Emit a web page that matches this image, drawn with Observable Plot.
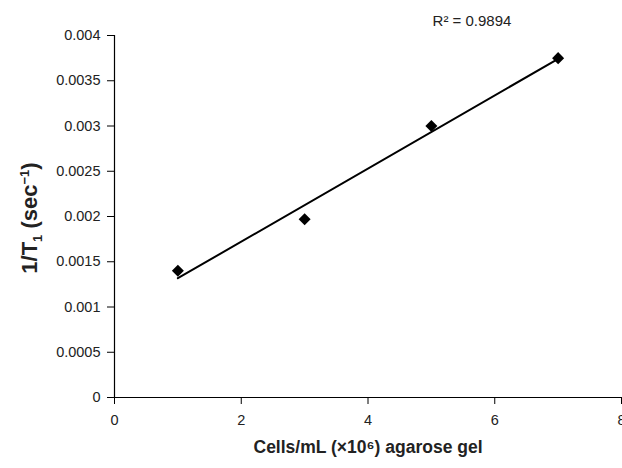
<!DOCTYPE html>
<html><head><meta charset="utf-8">
<script src="https://cdn.jsdelivr.net/npm/d3@7"></script>
<script src="https://cdn.jsdelivr.net/npm/@observablehq/plot@0.6"></script>
<style>
html,body{margin:0;padding:0;background:#fff;}
svg{font-family:"Liberation Sans",Arial,sans-serif;}
</style></head>
<body><div id="chart"></div>
<script>
const cells = [1, 3, 5, 7];
const invT1 = [0.0014, 0.00197, 0.003, 0.00375];
const xTicks = [0, 2, 4, 6, 8];
const yTicks = [0, 0.0005, 0.001, 0.0015, 0.002, 0.0025, 0.003, 0.0035, 0.004];
const r2Label = "R² = 0.9894";
const xLabel = "Cells/mL (×10⁶) agarose gel";
const yLabelParts = [["1/T", "base"], ["1", "sub"], [" (sec", "base"], ["−1", "sup"], [")", "base"]];

const data = cells.map((c, i) => ({x: c, y: invT1[i]}));

const plot = Plot.plot({
  width: 622, height: 468,
  marginLeft: 114, marginRight: 1, marginTop: 35, marginBottom: 71,
  style: {fontFamily: "Liberation Sans, Arial, sans-serif", fontSize: "14.5px", color: "#222", overflow: "visible"},
  x: {domain: [0, 8], ticks: xTicks, tickSize: 7, tickPadding: 10, tickFormat: d => `${d}`,
      label: xLabel, labelAnchor: "center", labelOffset: 55},
  y: {domain: [0, 0.004], ticks: yTicks, tickSize: 7, tickPadding: 7, tickFormat: d => `${d}`,
      label: null},
  marks: [
    Plot.ruleY([0], {stroke: "#000", strokeWidth: 1.2}),
    Plot.ruleX([0], {stroke: "#000", strokeWidth: 1.2}),
    Plot.linearRegressionY(data, {x: "x", y: "y", stroke: "#000", strokeWidth: 2, ci: 0}),
    Plot.dot(data, {x: "x", y: "y", symbol: "square", rotate: 45, r: 4.8, fill: "#000", stroke: "none"}),
    Plot.text([r2Label], {text: d => d, frameAnchor: "top", lineAnchor: "middle", dx: 104, dy: -14.5, fontSize: 15, fill: "#222"})
  ]
});
const sel = d3.select(plot);
sel.selectAll("[aria-label='x-axis tick label'] text, [aria-label='y-axis tick label'] text, [aria-label='x-axis tick label'], [aria-label='y-axis tick label']")
  .attr("font-size", 14.5).style("font-size", "14.5px").attr("fill", "#222");
sel.select("[aria-label='x-axis label'] text").text(xLabel);
sel.selectAll("[aria-label='x-axis label'] text")
  .style("font-size", "17.5px").style("font-weight", "bold").attr("fill", "#222");
// custom y-axis label with sub/superscripts
const yl = sel.append("text")
  .attr("transform", "translate(37,218) rotate(-90)")
  .attr("text-anchor", "middle")
  .attr("fill", "#222")
  .style("font-size", "22px").style("font-weight", "bold")
  .style("font-family", "Liberation Sans, Arial, sans-serif");
let shift = 0;
yLabelParts.forEach(([t, kind]) => {
  const target = kind === "sub" ? 5 : kind === "sup" ? -8 : 0;
  const ts = yl.append("tspan").text(t).attr("dy", target - shift);
  if (kind !== "base") ts.style("font-size", "13px");
  shift = target;
});
sel.selectAll("[aria-label$='tick'] path, [aria-label$='tick'] line").attr("stroke", "#000");
document.getElementById("chart").appendChild(plot);
</script></body></html>
